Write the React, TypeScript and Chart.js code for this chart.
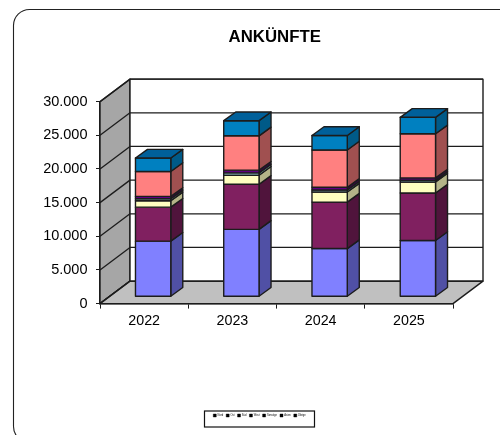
import React, { useEffect, useRef } from "react";
import { Chart, registerables } from "chart.js";

Chart.register(...registerables);

const years = ["2022", "2023", "2024", "2025"];
const names = ["Nord", "Ost", "Süd", "West", "Sonstige", "Asien", "Übrige"];
const s1 = [8250, 10000, 7150, 8350];
const s2 = [5050, 6700, 6900, 7050];
const s3 = [950, 1350, 1500, 1650];
const s4 = [300, 350, 300, 250];
const s5 = [350, 400, 400, 350];
const s6 = [3700, 5100, 5550, 6550];
const s7 = [2000, 2250, 2150, 2450];
const series = [s1, s2, s3, s4, s5, s6, s7];
const fronts = ["#8080ff", "#802060", "#ffffc0", "#a0e0e0", "#600080", "#ff8080", "#0080c0"];
const sides = ["#5050a5", "#50143c", "#b4b488", "#709c9c", "#3c0050", "#a05050", "#005a88"];
const tops = ["#5a5ab4", "#5a1644", "#b4b488", "#709c9c", "#430059", "#b35a5a", "#00609a"];

const INK = "#1c1c1c";
const FONT = "'Liberation Sans', Arial, sans-serif";
const WALL = { dx: 30, dy: 22.5 };
const BAR = { dx: 12, dy: 8.7, ox: 9, oy: 6.9 };

function poly(ctx: CanvasRenderingContext2D, pts: number[][], fill: string, stroke = INK, lw = 1.4) {
  ctx.beginPath();
  pts.forEach(([x, y], i) => (i ? ctx.lineTo(x, y) : ctx.moveTo(x, y)));
  ctx.closePath();
  ctx.fillStyle = fill;
  ctx.fill();
  ctx.lineWidth = lw;
  ctx.strokeStyle = stroke;
  ctx.lineJoin = "round";
  ctx.stroke();
}

const scene = {
  id: "scene",
  afterLayout(chart: any) {
    const lg = chart.legend;
    const shift = 259.5 - (lg.left + lg.right) / 2;
    lg.left += shift;
    lg.right += shift;
    const h = lg.bottom - lg.top;
    lg.top = 419 - h / 2;
    lg.bottom = lg.top + h;
    const tb = chart.titleBlock;
    tb.left -= 1.8;
    tb.right -= 1.8;
    tb.top += 0.5;
    tb.bottom += 0.5;
  },
  beforeDatasetDraw() {
    return false;
  },
  beforeDatasetsDraw(chart: any) {
    const { ctx, chartArea: a, scales } = chart;
    const { dx, dy } = WALL;
    const y = scales.y;
    ctx.save();
    poly(ctx, [[a.left, a.top], [a.left + dx, a.top - dy], [a.left + dx, a.bottom - dy], [a.left, a.bottom]], "#a6a6a6");
    poly(ctx, [[a.left, a.bottom], [a.left + dx, a.bottom - dy], [a.right + dx, a.bottom - dy], [a.right, a.bottom]], "#c0c0c0");
    poly(ctx, [[a.left + dx, a.top - dy], [a.right + dx, a.top - dy], [a.right + dx, a.bottom - dy], [a.left + dx, a.bottom - dy]], "#ffffff");
    y.ticks.forEach((t: any) => {
      const py = y.getPixelForValue(t.value);
      ctx.beginPath();
      ctx.moveTo(a.left, py);
      ctx.lineTo(a.left + dx, py - dy);
      ctx.lineTo(a.right + dx, py - dy);
      ctx.lineWidth = 1.3;
      ctx.strokeStyle = INK;
      ctx.stroke();
    });
    ctx.restore();
  },
  afterDatasetsDraw(chart: any) {
    const { ctx } = chart;
    ctx.save();
    series.forEach((vals, i) => {
      const meta = chart.getDatasetMeta(i);
      meta.data.forEach((el: any, k: number) => {
        if (!vals[k]) return;
        const l = el.x - el.width / 2 + BAR.ox;
        const r = el.x + el.width / 2 + BAR.ox;
        const t = el.y - BAR.oy;
        const b = el.base - BAR.oy;
        poly(ctx, [[r, b], [r + BAR.dx, b - BAR.dy], [r + BAR.dx, t - BAR.dy], [r, t]], sides[i]);
        poly(ctx, [[l, b], [r, b], [r, t], [l, t]], fronts[i]);
      });
    });
    const last = chart.getDatasetMeta(series.length - 1);
    last.data.forEach((el: any) => {
      const l = el.x - el.width / 2 + BAR.ox;
      const r = el.x + el.width / 2 + BAR.ox;
      const t = el.y - BAR.oy;
      poly(ctx, [[l, t], [r, t], [r + BAR.dx, t - BAR.dy], [l + BAR.dx, t - BAR.dy]], tops[series.length - 1]);
    });
    ctx.restore();
  },
  afterDraw(chart: any) {
    const { ctx, legend: lg } = chart;
    const cx = (lg.left + lg.right) / 2;
    const cy = (lg.top + lg.bottom) / 2;
    ctx.save();
    ctx.lineWidth = 1.2;
    ctx.strokeStyle = "#111";
    ctx.strokeRect(cx - 55, cy - 8, 110, 16);
    ctx.beginPath();
    ctx.roundRect(13.5, 9.5, 620, 433, 16);
    ctx.lineWidth = 1.1;
    ctx.strokeStyle = "#222";
    ctx.stroke();
    ctx.restore();
  },
};

export default function App() {
  const ref = useRef<HTMLCanvasElement>(null);
  useEffect(() => {
    const chart = new Chart(ref.current as HTMLCanvasElement, {
      type: "bar",
      data: {
        labels: years,
        datasets: series.map((data, i) => ({
          label: names[i],
          data,
          backgroundColor: fronts[i],
          borderColor: INK,
          barPercentage: 0.4,
          categoryPercentage: 1,
        })),
      },
      options: {
        responsive: false,
        animation: false,
        devicePixelRatio: 1,
        layout: { autoPadding: false, padding: { left: 40, right: 47, top: 20, bottom: 20 } },
        plugins: {
          tooltip: { enabled: false },
          title: {
            display: true,
            text: "ANKÜNFTE",
            fullSize: false,
            color: "#000",
            font: { family: FONT, size: 16.8, weight: "bold", lineHeight: 1.2 },
            padding: { top: 6.5, bottom: 55 },
          },
          legend: {
            display: true,
            position: "bottom",
            fullSize: false,
            labels: {
              color: "#777",
              font: { family: FONT, size: 2.6 },
              boxWidth: 3,
              boxHeight: 3,
              padding: 3,
              generateLabels: (c: any) =>
                c.data.datasets.map((d: any, i: number) => ({
                  text: d.label,
                  fillStyle: "#000",
                  strokeStyle: "#000",
                  lineWidth: 0.4,
                  datasetIndex: i,
                })),
            },
          },
        },
        scales: {
          x: {
            stacked: true,
            offset: true,
            afterFit: (s: any) => {
              s.height = 95.4;
            },
            border: { display: true, color: INK, width: 1.4 },
            grid: { display: true, drawOnChartArea: false, drawTicks: true, tickLength: 5, color: INK, offset: true },
            ticks: { color: "#000", font: { family: FONT, size: 14.3 }, padding: 4, maxRotation: 0 },
          },
          y: {
            stacked: true,
            min: 0,
            max: 30000,
            afterFit: (s: any) => {
              s.width = 60;
            },
            border: { display: true, color: INK, width: 1.4 },
            grid: { display: true, drawOnChartArea: false, drawTicks: true, tickLength: 4, color: INK },
            ticks: {
              stepSize: 5000,
              color: "#000",
              font: { family: FONT, size: 14.5 },
              padding: 8.5,
              callback: (v: any) => String(v).replace(/\B(?=(\d{3})+$)/g, "."),
            },
          },
        },
      },
      plugins: [scene],
    } as any);
    return () => chart.destroy();
  }, []);
  return (
    <canvas
      ref={ref}
      width={500}
      height={435}
      style={{ position: "absolute", left: 0, top: 0, width: 500, height: 435, display: "block", background: "#fff" }}
    />
  );
}
